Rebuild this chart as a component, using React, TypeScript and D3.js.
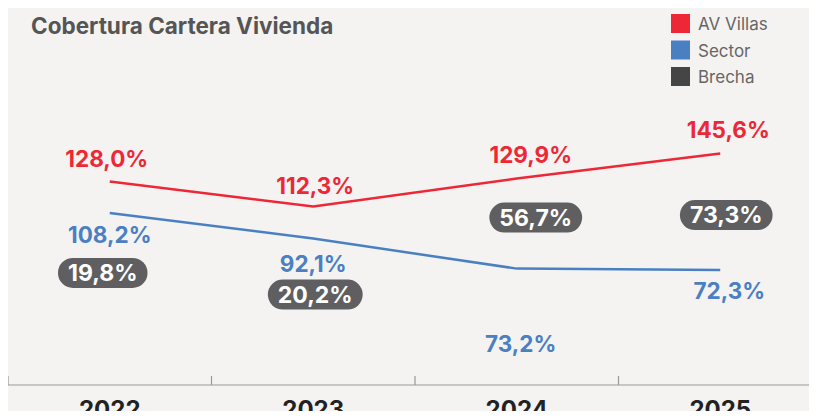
import React, { useRef, useEffect } from 'react'
import * as d3 from 'd3'

const years = ['2022', '2023', '2024', '2025']
const avVillas = [128.0, 112.3, 129.9, 145.6]
const sector = [108.2, 92.1, 73.2, 72.3]
const brecha = [19.8, 20.2, 56.7, 73.3]
const legendNames = ['AV Villas', 'Sector', 'Brecha']

// label placement relative to the point (dx, dy), as in the original infographic
const redOffsets = [[-3, -14], [2, -12], [14, -15], [8, -15]]
const blueOffsets = [[0, 30], [0, 33], [4, 83], [9, 29]]
const pillOffsets = [[-7, 60], [2, 56], [19, -51], [6, -55]]

const fmt = (v: number) => v.toFixed(1).replace('.', ',') + '%'

export default function App() {
  const visEl = useRef<HTMLDivElement>(null)
  const width = 817
  const height = 419

  useEffect(() => {
    const root = d3.select(visEl.current)
    root.selectAll('*').remove()
    const svg = root.append('svg')
      .attr('width', width)
      .attr('height', height)
      .style('display', 'block')
      .style('font-family', 'Inter, "Noto Sans", sans-serif')

    svg.append('rect').attr('width', width).attr('height', height).attr('fill', '#f4f3f2')

    const red = '#ee2737'
    const blue = '#4a80c2'
    const axisY = 385

    const x = d3.scaleBand().domain(years).range([8, 822]).padding(0)
    const cx = (d: string) => (x(d) as number) + x.bandwidth() / 2
    const y = d3.scaleLinear().domain([0, 100]).range([axisY, axisY - 159])

    // axis
    const xAxis = d3.axisBottom(x).tickSize(0).tickPadding(16)
    const axisG = svg.append('g').attr('transform', `translate(0,${axisY})`).call(xAxis)
    axisG.select('.domain').attr('stroke', '#999').attr('stroke-width', 1.2).attr('d', `M8,0H817`)
    axisG.selectAll('.tick text')
      .attr('font-size', 24).attr('font-weight', 700).attr('fill', '#222')
      .attr('font-family', 'Inter, sans-serif')
    years.forEach(yr => {
      svg.append('line')
        .attr('x1', x(yr) as number).attr('x2', x(yr) as number)
        .attr('y1', axisY).attr('y2', axisY - 9)
        .attr('stroke', '#999').attr('stroke-width', 1.2)
    })

    // title
    svg.append('text').attr('x', 31).attr('y', 34)
      .attr('font-size', 22.5).attr('font-weight', 700).attr('fill', '#555')
      .text('Cobertura Cartera Vivienda')

    // legend
    const legendColors = [red, blue, '#454545']
    legendNames.forEach((n, i) => {
      svg.append('rect').attr('x', 671).attr('y', 14 + i * 26.5).attr('width', 19).attr('height', 19)
        .attr('fill', legendColors[i])
      svg.append('text').attr('x', 698).attr('y', 30 + i * 26.5)
        .attr('font-size', 17).attr('fill', '#666').text(n)
    })

    const line = d3.line<number>().x((d, i) => cx(years[i])).y(d => y(d))

    svg.append('path').datum(avVillas).attr('d', line).attr('fill', 'none')
      .attr('stroke', red).attr('stroke-width', 2.5)
    svg.append('path').datum(sector).attr('d', line).attr('fill', 'none')
      .attr('stroke', blue).attr('stroke-width', 2.5)

    avVillas.forEach((v, i) => {
      svg.append('text')
        .attr('x', cx(years[i]) + redOffsets[i][0]).attr('y', y(v) + redOffsets[i][1])
        .attr('text-anchor', 'middle').attr('font-size', 22.5).attr('font-weight', 700)
        .attr('fill', red).text(fmt(v))
    })
    sector.forEach((v, i) => {
      svg.append('text')
        .attr('x', cx(years[i]) + blueOffsets[i][0]).attr('y', y(v) + blueOffsets[i][1])
        .attr('text-anchor', 'middle').attr('font-size', 22.5).attr('font-weight', 700)
        .attr('fill', blue).text(fmt(v))
    })

    brecha.forEach((v, i) => {
      const px = cx(years[i]) + pillOffsets[i][0]
      const py = y(sector[i]) + pillOffsets[i][1]
      const g = svg.append('g')
      const r = g.append('rect').attr('fill', '#5f5f62')
      const t = g.append('text')
        .attr('x', px).attr('y', py + 8)
        .attr('text-anchor', 'middle').attr('font-size', 23).attr('font-weight', 700)
        .attr('fill', '#fff').text(fmt(v))
      const w = (t.node() as SVGTextElement).getComputedTextLength() + 20
      r.attr('x', px - w / 2).attr('y', py - 15).attr('width', w).attr('height', 30).attr('rx', 15)
    })
  }, [])

  return <div ref={visEl} style={{ margin: -8 }}></div>
}
